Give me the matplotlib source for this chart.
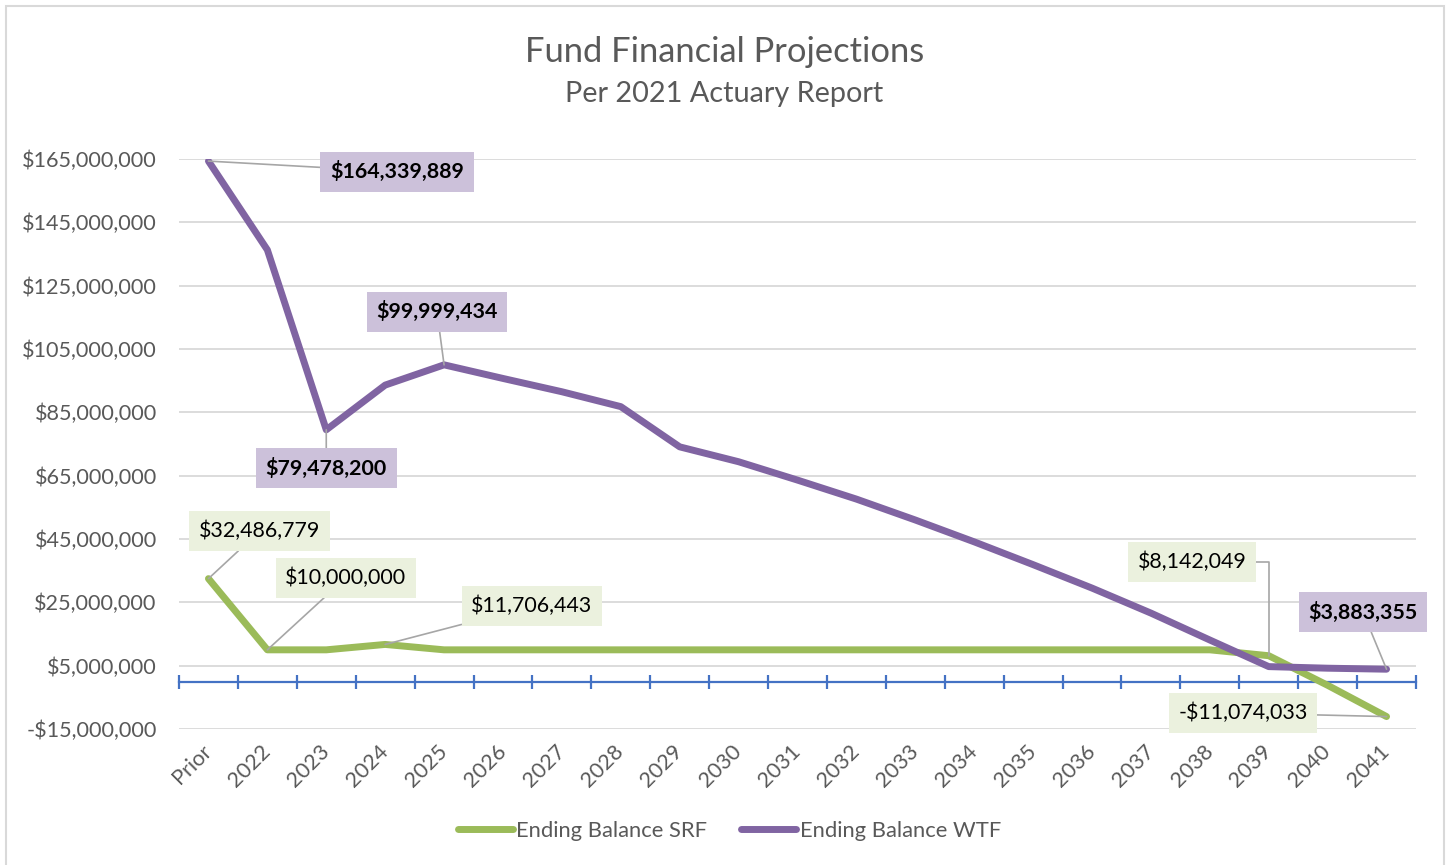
import numpy as np
import matplotlib
matplotlib.use("Agg")
from matplotlib import pyplot as plt
from matplotlib.ticker import FuncFormatter
from matplotlib.patches import Rectangle
from matplotlib.lines import Line2D

plt.rcParams['font.family'] = ['Lato', 'DejaVu Sans']

# chart data
years = ['Prior'] + [str(y) for y in range(2022, 2042)]
srf = [32486779, 10000000, 10000000, 11706443, 10000000, 10000000, 10000000,
       10000000, 10000000, 10000000, 10000000, 10000000, 10000000, 10000000,
       10000000, 10000000, 10000000, 10000000, 8142049, -1200000, -11074033]
wtf = [164339889, 136300000, 79478200, 93600000, 99999434, 95700000, 91500000,
       86800000, 74100000, 69400000, 63600000, 57600000, 51000000, 44100000,
       36900000, 29500000, 21600000, 13100000, 4700000, 4200000, 3883355]

# which points get a data label, and where the label box sits (x index, y value)
srf_labels = {0: (0.87, 47.5e6), 1: (2.33, 32.7e6), 3: (5.49, 23.8e6),
              18: (16.70, 37.7e6), 20: (17.56, -10.0e6)}
wtf_labels = {0: (3.20, 161.0e6), 2: (2.00, 67.4e6), 4: (3.88, 116.7e6),
              20: (19.60, 21.9e6)}
# leader lines that bend (elbow) instead of running straight
elbows = {('srf', 18): 'angle,angleA=0,angleB=90,rad=0'}

green = '#9BBB59'
purple = '#8064A2'
grey_txt = '#595959'


def money(v, pos=None):
    if v < 0:
        return '-${:,.0f}'.format(-v)
    return '${:,.0f}'.format(v)


W, H = 1449, 865
fig = plt.figure(figsize=(W / 100, H / 100), dpi=100)
ax = fig.add_axes([179 / W, 1 - 729 / H, (1416 - 179) / W, (729 - 159) / H])

x = np.arange(len(years))
ax.plot(x, srf, color=green, lw=5, solid_joinstyle='round', solid_capstyle='round',
        label='Ending Balance SRF', zorder=3)
ax.plot(x, wtf, color=purple, lw=5, solid_joinstyle='round', solid_capstyle='round',
        label='Ending Balance WTF', zorder=4)

ax.set_xlim(-0.5, len(years) - 0.5)
ax.set_ylim(-15e6, 165e6)
ax.set_yticks(np.arange(-15e6, 165e6 + 1, 20e6))
ax.yaxis.set_major_formatter(FuncFormatter(money))
ax.yaxis.grid(True, color='#D9D9D9', lw=1.3)
ax.set_axisbelow(True)
for s in ax.spines.values():
    s.set_visible(False)
ax.tick_params(axis='y', length=0, pad=16, labelsize=15.6, labelcolor=grey_txt)
ax.set_xticks(x)
ax.set_xticklabels(years, rotation=45, ha='right', va='center', rotation_mode='anchor')
ax.tick_params(axis='x', length=0, pad=14, labelsize=15.6, labelcolor=grey_txt)
ax.patch.set_visible(False)

# horizontal axis line crossing at zero, with Excel-style cross ticks
ax2 = ax.twiny()
ax2.set_zorder(ax.get_zorder() - 1)
ax2.set_xlim(ax.get_xlim())
ax2.xaxis.set_ticks_position('bottom')
ax2.spines['bottom'].set_position(('data', 0))
ax2.spines['bottom'].set_color('#4472C4')
ax2.spines['bottom'].set_linewidth(1.6)
for side in ['top', 'left', 'right']:
    ax2.spines[side].set_visible(False)
ax2.set_xticks(np.arange(-0.5, len(years), 1))
ax2.set_xticklabels([])
ax2.tick_params(axis='x', direction='inout', length=10, width=1.6, color='#4472C4')


def add_labels(name, values, spots, bg, weight):
    for i, (tx, ty) in spots.items():
        ax.annotate(money(values[i]), xy=(i, values[i]), xytext=(tx, ty),
                    ha='center', va='center', fontsize=15.4, fontweight=weight,
                    color='black', zorder=6,
                    bbox=dict(boxstyle='square,pad=0.45', fc=bg, ec='none'),
                    arrowprops=dict(arrowstyle='-', color='#A6A6A6', lw=1.2,
                                    shrinkA=0, shrinkB=0,
                                    connectionstyle=elbows.get((name, i), 'arc3')))


add_labels('srf', srf, srf_labels, '#EBF1DE', 'normal')
add_labels('wtf', wtf, wtf_labels, '#CCC1DA', 'bold')

fig.text(0.5, 1 - 52 / H, 'Fund Financial Projections', ha='center', va='center',
         fontsize=24.8, color=grey_txt)
fig.text(0.5, 1 - 94 / H, 'Per 2021 Actuary Report', ha='center', va='center',
         fontsize=20.8, color=grey_txt)

handles = [Line2D([], [], color=green, lw=5, solid_capstyle='round'),
           Line2D([], [], color=purple, lw=5, solid_capstyle='round')]
fig.legend(handles, ['Ending Balance SRF', 'Ending Balance WTF'], loc='center',
           bbox_to_anchor=(0.5035, 1 - 831 / H), ncol=2, frameon=False, fontsize=15.8,
           handlelength=2.5, handletextpad=0.15, columnspacing=1.55,
           labelcolor=grey_txt)

fig.add_artist(Rectangle((5.5 / W, -0.1), (1444 - 5.5) / W, 1.1 - 5.5 / H,
                         transform=fig.transFigure, fill=False, ec='#D9D9D9', lw=1.5))

fig.savefig('out.png', dpi=100)
